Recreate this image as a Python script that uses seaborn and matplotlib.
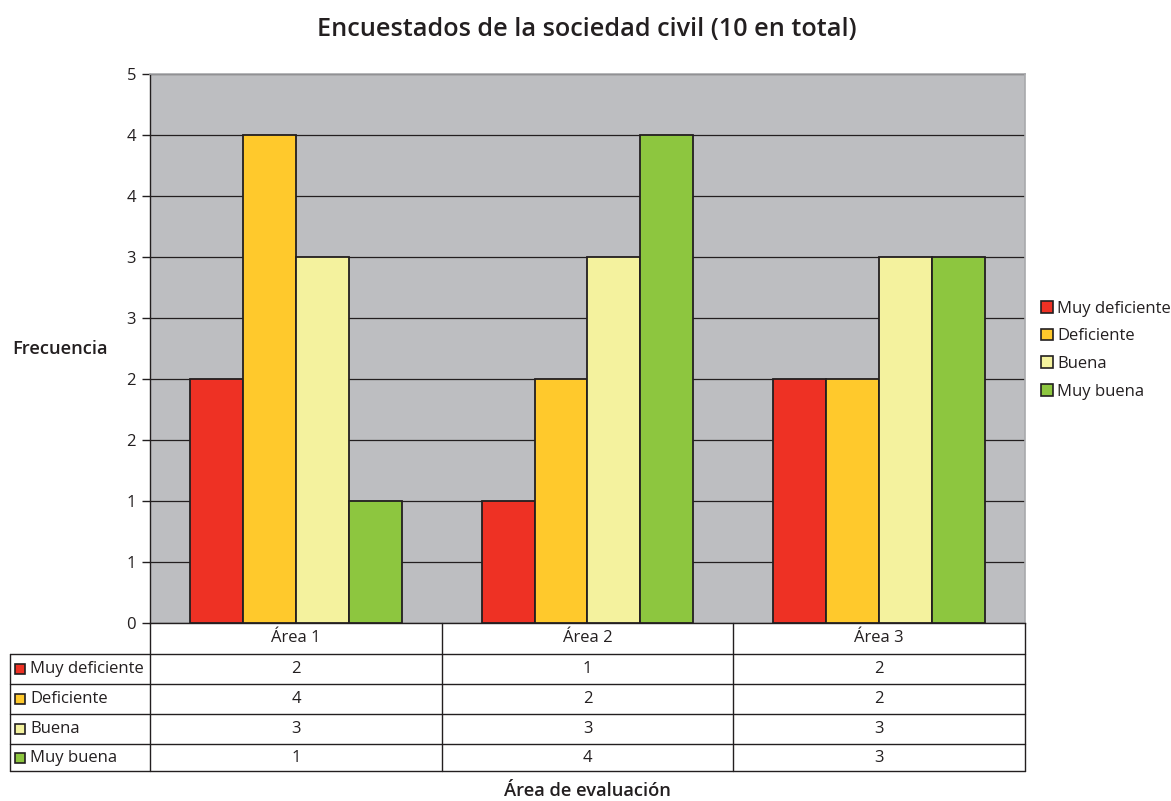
import matplotlib
matplotlib.use("Agg")
import matplotlib.pyplot as plt
import seaborn as sns
import pandas as pd
from matplotlib.patches import Patch, Rectangle

areas = ["Área 1", "Área 2", "Área 3"]
niveles = ["Muy deficiente", "Deficiente", "Buena", "Muy buena"]
muy_deficiente = [2, 1, 2]
deficiente = [4, 2, 2]
buena = [3, 3, 3]
muy_buena = [1, 4, 3]
colores = ["#EE3124", "#FFC92C", "#F4F29E", "#8DC63F"]
ytick_vals = [0, 0.5, 1, 1.5, 2, 2.5, 3, 3.5, 4, 4.5]
ytick_labels = ["0", "1", "1", "2", "2", "3", "3", "4", "4", "5"]

series = [muy_deficiente, deficiente, buena, muy_buena]
rows = []
for nivel, vals in zip(niveles, series):
    for a, v in zip(areas, vals):
        rows.append({"area": a, "nivel": nivel, "valor": v})
df = pd.DataFrame(rows)

sns.set_theme(style="white")
plt.rcParams['font.family'] = ['Open Sans', 'DejaVu Sans']
txt = "#231F20"

W, H = 1171, 801
fig = plt.figure(figsize=(W / 100, H / 100), dpi=100)
ax = fig.add_axes([150 / W, 1 - 623 / H, 875 / W, 549 / H])
ax.set_facecolor("#BDBEC1")

sns.barplot(data=df, x="area", y="valor", hue="nivel", order=areas, hue_order=niveles,
            palette=colores, width=0.726, saturation=1, edgecolor="#231F20",
            linewidth=1.3, ax=ax, legend=False, zorder=3)
ax.set_ylim(0, 4.5)
ax.set_xlim(-0.5, 2.5)
ax.set_yticks(ytick_vals)
ax.set_yticklabels(ytick_labels, fontsize=12, color=txt)
ax.yaxis.grid(True, color="#231F20", linewidth=0.9, zorder=0)
ax.set_axisbelow(True)
ax.set_xticks([])
ax.set_xlabel("")
ax.set_ylabel("")
ax.tick_params(axis="y", length=6, width=1, color="#231F20", left=True, pad=4)
for s in ["left", "bottom"]:
    ax.spines[s].set_color("#231F20")
    ax.spines[s].set_linewidth(1)
for s in ["top", "right"]:
    ax.spines[s].set_color("#A8A9AC")
    ax.spines[s].set_linewidth(1.2)

fig.text(587 / W, 1 - 29 / H, "Encuestados de la sociedad civil (10 en total)",
         ha="center", va="center", fontsize=18.2, fontweight="semibold", color=txt)
fig.text(12 / W, 1 - 349 / H, "Frecuencia", ha="left", va="center",
         fontsize=13.2, fontweight="semibold", color=txt)
fig.text(587 / W, 1 - 791 / H, "Área de evaluación", ha="center", va="center",
         fontsize=13.2, fontweight="semibold", color=txt)

# legend
handles = [Patch(facecolor=c, edgecolor="#231F20", linewidth=1.2) for c in colores]
ax.legend(handles, niveles, loc="center left", bbox_to_anchor=(1.011, 0.497),
          frameon=False, fontsize=12, handlelength=0.7, handleheight=0.7,
          handletextpad=0.25, labelspacing=0.7, borderaxespad=0,
          labelcolor=txt)

# data table
tax = fig.add_axes([0, 0, 1, 1])
tax.set_xlim(0, W)
tax.set_ylim(H, 0)
tax.axis("off")
lc = "#231F20"
col_x = [150, 442, 733, 1025]
row_y = [623, 654, 684, 714, 744, 771]
for y in row_y[1:]:
    tax.plot([10, 1025], [y, y], color=lc, lw=1)
for x in col_x:
    tax.plot([x, x], [623, 771], color=lc, lw=1)
tax.plot([10, 10], [654, 771], color=lc, lw=1)
for j, a in enumerate(areas):
    cx = (col_x[j] + col_x[j + 1]) / 2
    tax.text(cx, (row_y[0] + row_y[1]) / 2, a, ha="center", va="center",
             fontsize=12, color=txt)
for i, (nivel, vals, c) in enumerate(zip(niveles, series, colores)):
    yc = (row_y[i + 1] + row_y[i + 2]) / 2
    tax.add_patch(Rectangle((15, yc - 5), 10, 10, facecolor=c, edgecolor=lc, lw=1.2))
    tax.text(30, yc, nivel, ha="left", va="center", fontsize=12, color=txt)
    for j, v in enumerate(vals):
        cx = (col_x[j] + col_x[j + 1]) / 2
        tax.text(cx, yc, str(v), ha="center", va="center", fontsize=12, color=txt)

fig.savefig("out.png", dpi=100)
